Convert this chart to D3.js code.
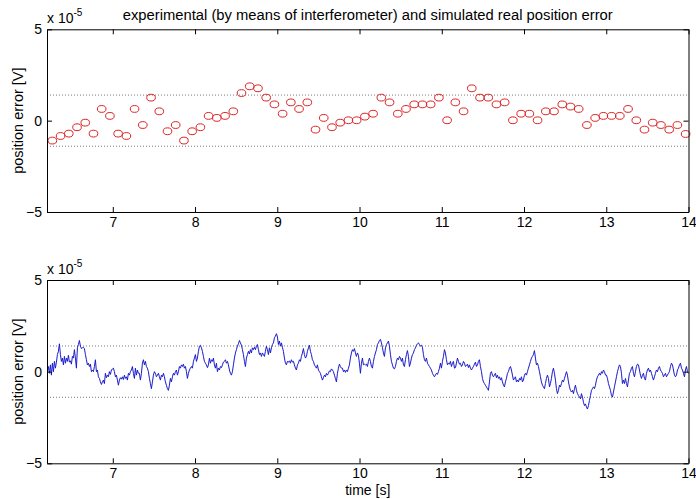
<!DOCTYPE html>
<html>
<head>
<meta charset="utf-8">
<script src="https://cdn.jsdelivr.net/npm/d3@7"></script>
<style>
  html, body { margin: 0; padding: 0; background: #fff; }
  svg { display: block; }
  text { font-family: "Liberation Sans", Arial, sans-serif; fill: #000; }
</style>
</head>
<body>
<script>
// ---------------- DATA (values in units of 1e-5 V) ----------------
const titleText = "experimental (by means of interferometer) and simulated real position error";
const yLabelText = "position error [V]";
const xLabelText = "time [s]";
const xTicks = [7, 8, 9, 10, 11, 12, 13, 14];
const yTicks = [-5, 0, 5];
const xDomain = [6.2, 14];
const yDomain = [-5, 5];
const toleranceBand = [-1.4, 1.4];

// experimental (interferometer) samples, every 0.1 s
const expStart = 6.265, expStep = 0.1;
const expValues = [-1.09,-0.84,-0.71,-0.36,-0.11,-0.71,0.64,0.26,-0.71,-0.84,
  0.64,-0.24,1.26,0.51,-0.58,-0.24,-1.09,-0.58,-0.36,0.26,
  0.15,0.26,0.51,1.51,1.88,1.77,1.26,0.89,0.38,1.0,
  0.64,1.0,-0.49,0.15,-0.36,-0.11,0.02,0.02,0.22,0.38,
  1.26,1.0,0.38,0.64,0.89,0.89,0.89,1.26,0.02,1.0,
  0.51,1.77,1.26,1.26,0.89,1.0,0.02,0.38,0.38,0.02,
  0.51,0.51,0.89,0.77,0.64,-0.24,0.15,0.26,0.26,0.26,
  0.64,0.02,-0.49,-0.11,-0.24,-0.49,-0.24,-0.73];

// simulated signal
const simStart = 6.205, simStep = 0.01216;
const simValues = [
 0.00,0.28,-0.09,0.37,-0.19,0.46,0.00,0.56,0.19,0.52,
 0.93,1.11,1.52,0.93,0.56,0.74,0.37,0.83,0.46,0.74,
 0.56,0.89,0.52,0.59,0.41,0.83,0.74,1.20,0.74,0.19,
 1.30,1.48,1.70,1.39,1.26,1.30,1.33,1.26,0.93,0.65,
 0.37,0.46,0.28,0.41,0.00,0.09,0.00,0.28,0.65,0.00,
 0.09,-0.28,-0.37,-0.56,-0.70,-0.56,-0.46,-0.65,-0.09,-0.33,
 -0.19,-0.28,0.00,-0.15,0.09,0.15,0.19,0.00,-0.28,-0.19,
 -0.46,-0.74,-0.46,-0.33,-0.41,-0.28,-0.43,-0.19,-0.37,-0.28,
 -0.46,-0.09,-0.19,0.00,0.09,0.28,-0.09,-0.37,0.19,-0.19,
 0.09,-0.09,-0.09,-0.46,-0.09,0.46,0.65,0.37,0.56,0.28,
 0.19,0.00,-0.37,-0.65,-0.93,-0.56,-0.19,0.00,-0.09,-0.28,
 -0.19,-0.09,-0.28,-0.46,-0.19,-0.28,-0.09,-0.28,-0.56,-0.74,
 -0.93,-1.02,-0.74,-0.37,-0.56,-0.28,-0.09,-0.19,0.00,0.09,
 -0.19,0.00,0.28,0.19,0.37,0.28,0.41,0.19,0.28,0.00,
 -0.37,-0.09,0.09,0.19,0.28,0.19,0.56,0.74,0.93,0.56,
 0.74,1.11,1.39,1.44,1.30,1.11,0.83,0.56,0.46,0.37,
 0.22,
 0.37,0.74,0.46,0.65,0.56,0.74,0.37,0.19,0.46,0.00,
 0.19,0.09,0.28,0.22,0.37,0.52,0.56,0.65,0.46,0.56,
 0.37,0.09,-0.09,-0.19,0.00,0.37,0.74,1.02,1.20,1.39,
 1.52,1.70,1.57,1.44,1.20,0.93,0.56,0.28,0.74,0.93,
 1.11,0.96,1.20,1.02,1.30,1.20,1.33,1.20,1.39,1.48,
 1.20,0.93,1.02,0.83,1.02,0.93,0.83,1.11,1.39,1.20,
 0.93,1.30,1.02,1.30,1.48,1.57,1.85,1.94,2.07,1.89,
 1.48,1.67,1.39,1.57,1.33,1.11,0.74,0.46,0.37,0.56,
 0.52,0.59,0.46,0.65,0.52,0.56,0.37,0.19,0.09,0.37,
 0.46,0.65,0.56,0.83,1.02,1.26,0.93,0.74,0.83,1.11,
 1.30,1.44,1.11,0.93,0.65,0.56,0.37,0.28,0.19,0.37,
 0.09,0.00,-0.09,-0.28,-0.46,-0.33,-0.19,-0.28,-0.09,-0.19,
 -0.09,0.04,0.00,0.15,0.09,0.00,-0.19,-0.37,-0.56,-0.09,
 0.19,0.41,0.28,0.19,0.19,0.00,0.09,-0.04,0.09,0.00,
 0.19,0.37,0.74,1.02,1.20,1.11,1.26,1.02,0.83,1.02,
 0.89,0.46,-0.09,0.46,0.74,0.37,0.41,0.37,0.41,
 0.28,0.56,0.74,0.56,0.28,0.19,0.56,0.83,1.02,1.20,
 1.48,1.57,1.70,1.76,1.57,1.30,1.02,0.83,1.30,1.48,
 1.57,1.67,1.39,0.93,0.56,0.37,0.19,0.15,0.28,0.56,
 0.74,0.65,0.83,0.74,0.56,0.74,0.37,0.28,0.65,0.93,
 1.15,0.83,0.28,0.46,0.74,0.93,1.02,1.20,1.30,1.44,
 1.52,1.57,1.48,1.39,1.44,1.33,0.93,0.65,0.56,0.74,
 0.46,0.37,0.28,0.19,0.09,-0.09,-0.19,-0.28,-0.19,-0.09,
 -0.15,0.00,0.19,0.46,0.19,0.56,0.83,1.20,1.02,0.65,
 0.37,0.46,0.41,0.56,0.28,0.46,0.56,0.19,0.22,0.46,
 0.74,0.56,0.41,0.46,0.28,0.37,0.56,0.46,0.28,0.33,
 0.41,0.22,0.37,0.19,0.09,0.19,0.28,0.41,0.52,0.28,
 0.37,0.56,0.65,0.28,0.00,-0.37,-0.56,-0.65,-0.74,-0.83,
 -0.93,-1.02,-0.56,-0.09,0.00,-0.19,-0.28,-0.19,-0.09,-0.33,
 -0.19,-0.37,-0.28,-0.46,-0.33,-0.56,-0.74,-0.83,-0.56,-0.37,
 -0.09,0.00,0.19,0.28,0.09,-0.19,-0.46,-0.37,-0.28,-0.56,
 -0.46,-0.56,-0.37,-0.46,-0.28,-0.56,-0.46,-0.19,-0.09,-0.19,
 0.00,0.19,0.37,0.56,0.74,0.83,0.93,1.15,0.74,0.37,
 0.46,0.28,0.00,-0.28,-0.56,-0.74,-0.83,-0.93,-0.65,-0.37,
 -0.19,-0.37,-0.83,-0.65,-0.37,0.00,0.19,-0.09,-0.46,-0.93,
 -1.20,-1.02,-0.74,-0.83,-0.65,-0.46,-0.56,-0.37,-0.19,0.00,
 -0.19,-0.56,-0.83,-1.02,-1.11,-1.02,-1.20,-0.93,-0.74,-1.02,
 -1.20,-1.30,-1.39,-1.48,-1.20,-1.39,-1.67,-1.85,-1.76,-1.94,
 -2.04,-1.85,-1.57,-1.30,-1.02,-0.93,-0.83,-0.93,-0.74,-0.46,
 -0.28,-0.19,-0.09,-0.19,0.00,-0.09,0.09,0.00,-0.19,-0.19,
 -0.37,-0.65,-0.83,-1.02,-1.30,-1.39,-1.11,-0.83,-0.56,-0.28,
 0.00,0.19,0.37,0.28,-0.09,-0.65,-0.46,-0.65,-0.37,-0.65,
 -0.83,-0.46,-0.09,0.00,0.19,0.28,-0.09,-0.28,0.00,0.28,
 0.41,0.37,0.09,-0.19,-0.37,-0.19,-0.09,-0.37,-0.46,-0.09,
 0.09,0.19,0.00,0.09,-0.09,-0.28,-0.46,-0.28,-0.09,0.09,
 0.00,0.19,0.28,0.09,0.00,-0.09,-0.28,-0.19,-0.09,-0.28,
 -0.19,-0.09,0.00,0.28,0.46,0.37,0.09,-0.19,-0.28,-0.19,
 0.09,0.19,0.37,0.46,0.19,0.09,-0.09,-0.28,0.09,0.28,
 0.00,-0.09];

// ---------------- LAYOUT ----------------
const W = 696, H = 499;
const left = 47, right = 688.5;
const FONT = "'Liberation Sans', Arial, sans-serif";
const panels = [
  { top: 29.3, bottom: 212 },
  { top: 280, bottom: 463.3 }
];

const svg = d3.select("body").append("svg")
  .attr("width", W).attr("height", H)
  .style("background", "#fff");

const x = d3.scaleLinear().domain(xDomain).range([left, right]);

function drawPanel(p, idx) {
  const y = d3.scaleLinear().domain(yDomain).range([p.bottom, p.top]);
  const g = svg.append("g");

  // tolerance dotted lines
  g.selectAll("line.tol").data(toleranceBand).enter().append("line")
    .attr("x1", left).attr("x2", right)
    .attr("y1", d => y(d)).attr("y2", d => y(d))
    .attr("stroke", "#7a7a7a").attr("stroke-width", 1)
    .attr("stroke-dasharray", "1,2");

  if (idx === 0) {
    const data = expValues.map((v, i) => ({ t: expStart + i * expStep, v }));
    g.selectAll("ellipse").data(data).enter().append("ellipse")
      .attr("cx", d => x(d.t)).attr("cy", d => y(d.v))
      .attr("rx", 4.3).attr("ry", 3.4)
      .attr("fill", "none").attr("stroke", "#dd2222").attr("stroke-width", 1);
  } else {
    const data = simValues.map((v, i) => ({ t: simStart + i * simStep, v }));
    const line = d3.line().x(d => x(d.t)).y(d => y(d.v));
    g.append("path").datum(data).attr("d", line)
      .attr("fill", "none").attr("stroke", "#1a1acc").attr("stroke-width", 1);
  }

  const axB = d3.axisBottom(x).tickValues(xTicks).tickSizeInner(-5).tickSizeOuter(0).tickPadding(5).tickFormat(d3.format("d"));
  const axT = d3.axisTop(x).tickValues(xTicks).tickSizeInner(-5).tickSizeOuter(0).tickFormat("");
  const axL = d3.axisLeft(y).tickValues(yTicks).tickSizeInner(-5).tickSizeOuter(0).tickPadding(5).tickFormat(d3.format("d"));
  const axR = d3.axisRight(y).tickValues(yTicks).tickSizeInner(-5).tickSizeOuter(0).tickFormat("");

  const style = sel => {
    sel.selectAll("path.domain").attr("stroke", "#000").attr("stroke-width", 1);
    sel.selectAll(".tick line").attr("stroke", "#000");
    sel.selectAll("text").style("font-family", FONT).style("font-size", "14px").attr("fill", "#000");
  };
  g.append("g").attr("transform", `translate(0,${p.bottom})`).call(axB).call(style);
  g.append("g").attr("transform", `translate(0,${p.top})`).call(axT).call(style);
  g.append("g").attr("transform", `translate(${left},0)`).call(axL).call(style);
  g.append("g").attr("transform", `translate(${right},0)`).call(axR).call(style);

  // exponent label
  const ex = g.append("text").attr("x", left).attr("y", p.top - 6)
    .style("font-size", "14px");
  ex.append("tspan").text("x 10");
  ex.append("tspan").attr("dy", -7).style("font-size", "10px").text("-5");

  // y label
  g.append("text")
    .attr("transform", `translate(23,${(p.top + p.bottom) / 2}) rotate(-90)`)
    .attr("text-anchor", "middle").style("font-size", "14.5px")
    .text(yLabelText);
}

panels.forEach(drawPanel);

// title
svg.append("text").attr("x", (left + right) / 2).attr("y", 20)
  .attr("text-anchor", "middle").style("font-size", "14px")
  .attr("textLength", 490).attr("lengthAdjust", "spacingAndGlyphs")
  .text(titleText);

// x label
svg.append("text").attr("x", (left + right) / 2).attr("y", 495)
  .attr("text-anchor", "middle").style("font-size", "14px").text(xLabelText);
</script>
</body>
</html>
